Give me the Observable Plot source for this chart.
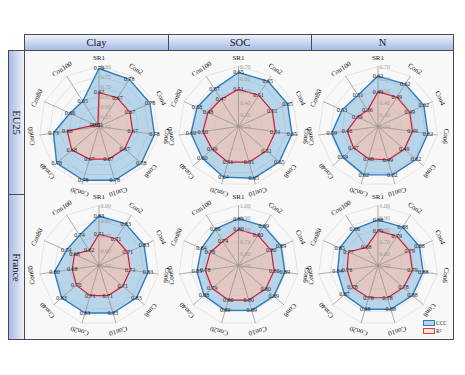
<!DOCTYPE html>
<html><head><meta charset="utf-8">
<script src="https://cdn.jsdelivr.net/npm/d3@7"></script>
<script src="https://cdn.jsdelivr.net/npm/@observablehq/plot@0.6"></script>
<style>
body{margin:0;background:#fff;font-family:"Liberation Serif",serif;}
#fig{position:relative;width:465px;height:375px;overflow:hidden;}
.hdr{position:absolute;box-sizing:border-box;border:1px solid #4a4a4a;background:linear-gradient(to bottom,#eef2fb,#a7bbe6);font-size:10.5px;color:#111;display:flex;align-items:center;justify-content:center;}
.strip{position:absolute;box-sizing:border-box;border:1px solid #4a4a4a;background:linear-gradient(to left,#eef2fb,#a7bbe6);font-size:10.5px;color:#111;display:flex;align-items:center;justify-content:center;}
.strip span{display:inline-block;transform:rotate(90deg);white-space:nowrap;}
#bg{position:absolute;left:24px;top:50px;width:430px;height:290px;box-sizing:border-box;background:#f8f8f8;border:1px solid #4a4a4a;}
.panel{position:absolute;}
.panel svg{overflow:visible;}
#legend{position:absolute;left:423px;top:319px;font-size:5.5px;color:#222;line-height:8px;}
#legend div{display:flex;align-items:center;height:8px;}
#legend i{display:inline-block;width:12px;height:6px;box-sizing:border-box;margin-right:1px;}
</style></head>
<body><div id="fig">
<div id="bg"></div>
</div>
<script>
// ---- data ----
const axes = ["SR1","Con2","Con4","Con6","Con8","Con10","Con20","Con40","Con60","Con80","Con100"];
const columns = ["Clay","SOC","N"];
const regions = ["EU25","France"];

const ticksEU25Clay = [0.50,0.55,0.60,0.65,0.70,0.75,0.80];
const ticksEU25SOC  = [0.20,0.30,0.40,0.50,0.60,0.70];
const ticksEU25N    = [0.20,0.30,0.40,0.50,0.60,0.70];
const ticksFranceClay = [0.50,0.60,0.70,0.80,0.90];
const ticksFranceSOC  = [0.50,0.60,0.70,0.80,0.90,1.00];
const ticksFranceN    = [0.50,0.60,0.70,0.80,0.90,1.00];

const cccEU25Clay = [0.79,0.78,0.78,0.78,0.78,0.78,0.78,0.78,0.73,0.66,0.65];
const r2EU25Clay  = [0.67,0.67,0.67,0.67,0.67,0.67,0.67,0.68,0.66,0.52,0.51];
const cccEU25SOC  = [0.65,0.65,0.65,0.65,0.65,0.65,0.64,0.60,0.60,0.58,0.57];
const r2EU25SOC   = [0.51,0.51,0.51,0.51,0.51,0.51,0.51,0.49,0.50,0.48,0.47];
const cccEU25N    = [0.62,0.62,0.62,0.62,0.62,0.62,0.62,0.59,0.59,0.53,0.51];
const r2EU25N     = [0.49,0.49,0.49,0.49,0.49,0.49,0.48,0.47,0.46,0.39,0.36];
const cccFranceClay = [0.83,0.83,0.83,0.83,0.83,0.83,0.83,0.83,0.80,0.74,0.74];
const r2FranceClay  = [0.71,0.71,0.71,0.71,0.71,0.71,0.71,0.70,0.68,0.68,0.62];
const cccFranceSOC  = [0.89,0.89,0.89,0.89,0.89,0.89,0.89,0.88,0.85,0.84,0.86];
const r2FranceSOC   = [0.80,0.80,0.80,0.80,0.80,0.80,0.80,0.79,0.78,0.76,0.74];
const cccFranceN    = [0.88,0.88,0.88,0.88,0.88,0.88,0.88,0.87,0.84,0.85,0.86];
const r2FranceN     = [0.79,0.79,0.79,0.79,0.78,0.78,0.78,0.78,0.76,0.77,0.68];

const panels = [
  {row:0,col:0,ticks:ticksEU25Clay,ccc:cccEU25Clay,r2:r2EU25Clay},
  {row:0,col:1,ticks:ticksEU25SOC,ccc:cccEU25SOC,r2:r2EU25SOC},
  {row:0,col:2,ticks:ticksEU25N,ccc:cccEU25N,r2:r2EU25N},
  {row:1,col:0,ticks:ticksFranceClay,ccc:cccFranceClay,r2:r2FranceClay},
  {row:1,col:1,ticks:ticksFranceSOC,ccc:cccFranceSOC,r2:r2FranceSOC},
  {row:1,col:2,ticks:ticksFranceN,ccc:cccFranceN,r2:r2FranceN}
];

// ---- layout ----
const colLeft = [24,168,311], colW = [144,143,143];
const rowTop = [50,194], rowH = [144,146];
const centerX = [98.5,238,377.5], centerY = [126,265];
const S = 60; // px per unit radius
const fig = document.getElementById("fig");

columns.forEach((c,i)=>{
  const d=document.createElement("div"); d.className="hdr";
  Object.assign(d.style,{left:colLeft[i]+"px",top:"34px",width:(colW[i]+(i<2?1:0))+"px",height:"17px"});
  d.textContent=c; fig.appendChild(d);
});
regions.forEach((r,i)=>{
  const d=document.createElement("div"); d.className="strip";
  Object.assign(d.style,{left:"8px",top:rowTop[i]+"px",width:"17px",height:(rowH[i]+(i==0?1:0))+"px"});
  d.innerHTML="<span>"+r+"</span>"; fig.appendChild(d);
});

const Nax = axes.length;
const ang = i => i*2*Math.PI/Nax;
const fmt = d3.format(".2f");

function radar(p){
  const lo=p.ticks[0], hi=p.ticks[p.ticks.length-1];
  const norm=v=>(v-lo)/(hi-lo);
  const w=colW[p.col], h=rowH[p.row];
  const cx=centerX[p.col]-colLeft[p.col], cy=centerY[p.row]-rowTop[p.row];
  const rings=p.ticks.slice(1).flatMap(t=>d3.range(Nax+1).map(i=>({t,x:norm(t)*Math.sin(ang(i%Nax)),y:norm(t)*Math.cos(ang(i%Nax))})));
  const poly=vals=>[...vals,vals[0]].map((v,i)=>({v,x:norm(v)*Math.sin(ang(i%Nax)),y:norm(v)*Math.cos(ang(i%Nax))}));
  const pts=vals=>vals.map((v,i)=>({v,x:norm(v)*Math.sin(ang(i)),y:norm(v)*Math.cos(ang(i))}));
  const spokes=axes.map((a,i)=>({x:Math.sin(ang(i)),y:Math.cos(ang(i))}));
  const labs=axes.map((a,i)=>({a,x:1.14*Math.sin(ang(i)),y:1.14*Math.cos(ang(i)),rot:i*360/Nax}));
  const tks=p.ticks.map(t=>({t,y:norm(t)}));
  return Plot.plot({
    width:w,height:h,margin:0,
    x:{domain:[-cx/S,(w-cx)/S],range:[0,w],axis:null},
    y:{domain:[-(h-cy)/S,cy/S],range:[h,0],axis:null},
    style:{background:"transparent",overflow:"visible",fontFamily:"Liberation Serif"},
    marks:[
      Plot.line(rings,{x:"x",y:"y",z:"t",stroke:"#dedede",strokeWidth:0.8,curve:"linear"}),
      Plot.line(poly(p.ccc),{x:"x",y:"y",fill:"#4a98d4",fillOpacity:0.36,stroke:"none"}),
      Plot.line(poly(p.r2),{x:"x",y:"y",fill:"#ffbfa5",fillOpacity:0.58,stroke:"none"}),
      Plot.link(spokes,{x1:0,y1:0,x2:"x",y2:"y",stroke:"#8c8c8c",strokeWidth:0.7}),
      Plot.line(poly(p.ccc),{x:"x",y:"y",stroke:"#2b7cc0",strokeWidth:1.4,strokeLinejoin:"miter"}),
      Plot.line(poly(p.r2),{x:"x",y:"y",stroke:"#cc1f3a",strokeWidth:1.2,strokeLinejoin:"miter"}),
      Plot.text(tks,{x:0,y:"y",text:d=>fmt(d.t),dx:1.5,dy:1,textAnchor:"start",fill:"#a0a0a0",fontSize:6}),
      Plot.text(pts(p.ccc),{x:"x",y:"y",text:d=>fmt(d.v),fill:"#222",fontSize:6}),
      Plot.text(pts(p.r2),{x:"x",y:"y",text:d=>fmt(d.v),fill:"#222",fontSize:6}),
      Plot.text(labs,{x:"x",y:"y",text:"a",rotate:"rot",fill:"#111",fontSize:7})
    ]
  });
}

panels.forEach(p=>{
  const d=document.createElement("div"); d.className="panel";
  Object.assign(d.style,{left:colLeft[p.col]+"px",top:rowTop[p.row]+"px"});
  d.appendChild(radar(p)); fig.appendChild(d);
});

const lg=document.createElement("div"); lg.id="legend";
lg.innerHTML='<div><i style="background:#b6d4ec;border:1px solid #2b7cc0"></i>CCC</div><div><i style="background:#fde3d6;border:1px solid #d0404a"></i>R²</div>';
fig.appendChild(lg);
</script>
</body></html>
